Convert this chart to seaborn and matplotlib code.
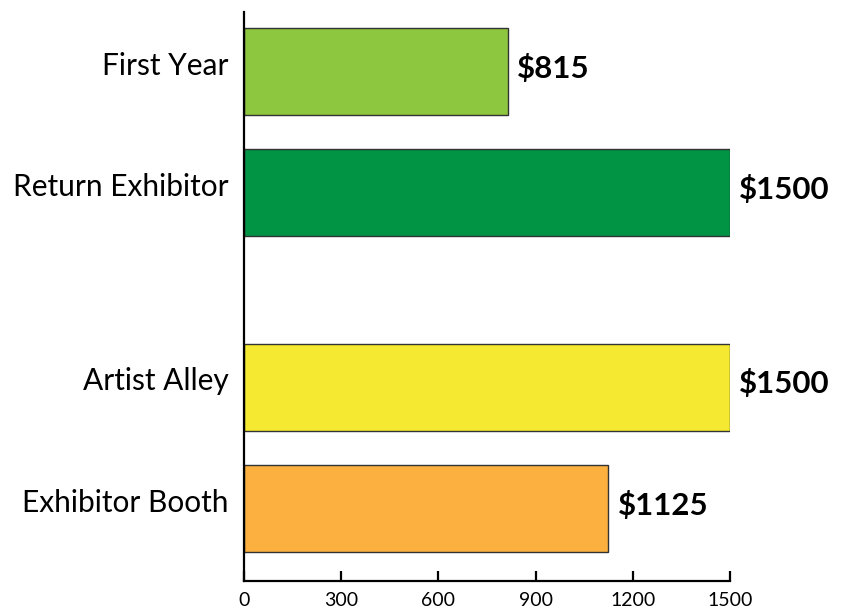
import seaborn as sns
import matplotlib.pyplot as plt
import matplotlib.transforms as mtrans
import pandas as pd

# Data
categories = ["First Year", "Return Exhibitor", "Artist Alley", "Exhibitor Booth"]
prices = [815, 1500, 1500, 1125]
positions = [0, 1, 2.6, 3.6]  # gap between the two groups
colors = ["#8dc63f", "#009444", "#f5ea31", "#fbb040"]
xticks = [0, 300, 600, 900, 1200, 1500]

df = pd.DataFrame({"category": categories, "price": prices, "pos": positions})

sns.set_style("white")
plt.rcParams["font.family"] = ["Lato", "DejaVu Sans"]
plt.rcParams["text.color"] = "black"
plt.rcParams["xtick.color"] = "black"
plt.rcParams["ytick.color"] = "black"

fig = plt.figure(figsize=(8.54, 6.10), dpi=100)
ax = fig.add_axes([0.2857, 0.0475, 0.5691, 0.9328])

sns.barplot(data=df, x="price", y="pos", hue="pos", palette=colors, orient="h",
            native_scale=True, width=0.717, saturation=1, legend=False,
            edgecolor="#333333", linewidth=1.0, ax=ax)

for cont in ax.containers:
    labels = ax.bar_label(cont, fmt="${:.0f}", padding=6.5, fontsize=22.5,
                          fontweight="bold", color="black")
    for lab in labels:
        lab.xyann = (6.5, 2.5)

ax.set_xlim(0, 1500)
ax.set_ylim(4.197, -0.49)
ax.set_xticks(xticks)
ax.set_xticklabels([str(t) for t in xticks], fontsize=14)
ax.set_yticks(positions)
ax.set_yticklabels(categories, fontsize=21.5)
ax.set_xlabel("")
ax.set_ylabel("")

sns.despine(ax=ax, top=True, right=True)
for side in ["left", "bottom"]:
    ax.spines[side].set_color("black")
    ax.spines[side].set_linewidth(1.6)
ax.tick_params(axis="x", bottom=True, direction="in", length=7.5, width=1.6,
               color="black", pad=8)
ax.tick_params(axis="y", left=False, length=0, pad=11)

# category labels sit a little above the bar centres
shift = mtrans.ScaledTranslation(0, 6 / 72, fig.dpi_scale_trans)
for lab in ax.get_yticklabels():
    lab.set_transform(lab.get_transform() + shift)

fig.savefig("out.png", dpi=100)
